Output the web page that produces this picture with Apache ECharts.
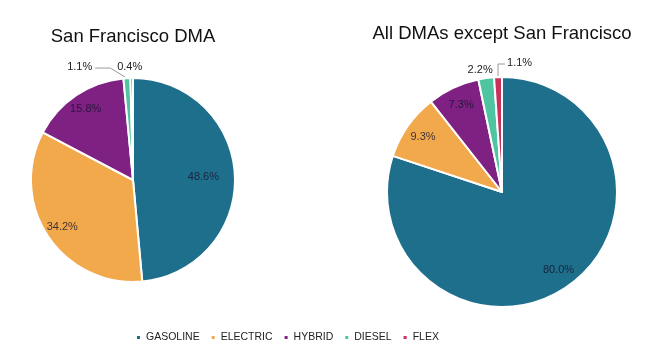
<!DOCTYPE html>
<html><head><meta charset="utf-8">
<script src="https://cdn.jsdelivr.net/npm/echarts@6/dist/echarts.min.js"></script>
<style>html,body{margin:0;padding:0;background:#fff}#c{width:655px;height:364px}</style>
</head><body><div id="c"></div>
<script>
var categories = ['GASOLINE', 'ELECTRIC', 'HYBRID', 'DIESEL', 'FLEX'];
var sfValues = [48.6, 34.2, 15.8, 1.1, 0.4];
var otherValues = [80.0, 9.3, 7.3, 2.2, 1.1];
var titles = ['San Francisco DMA', 'All DMAs except San Francisco'];
var colors = ['#1e6f8c', '#f2a94c', '#7e2183', '#4fc4a0', '#c8325a'];

var FONT = 'Liberation Sans, Arial, sans-serif';
function fmt(p){ return p.value.toFixed(1) + '%'; }
function pickData(vals, showIdx){
  return categories.map(function(c,i){
    var s = showIdx.indexOf(i) >= 0;
    return {name:c, value:vals[i], label:{show:s}, labelLine:{show:s}};
  });
}

// outside-label placement relative to the slice's own bounding box (top centre)
function leftOutside(p){
  var tx = p.rect.x + p.rect.width/2, ty = p.rect.y;
  if (p.dataIndex === 3) {
    return {x: tx-36, y: ty-10, align:'right', verticalAlign:'middle',
            labelLinePoints: [[tx-3, ty], [tx-18, ty-9], [tx-33, ty-9]]};
  }
  return {x: tx-2, y: ty-10, align:'center', verticalAlign:'middle',
          labelLinePoints: [[tx, ty], [tx, ty], [tx, ty]]};
}
function rightOutside(p){
  var tx = p.rect.x + p.rect.width/2, ty = p.rect.y;
  if (p.dataIndex === 3) {
    return {x: tx-10, y: ty-6, align:'center', verticalAlign:'middle',
            labelLinePoints: [[tx, ty], [tx, ty], [tx, ty]]};
  }
  return {x: tx+9, y: ty-13, align:'left', verticalAlign:'middle',
          labelLinePoints: [[tx, ty], [tx, ty-12], [tx+7, ty-12]]};
}

var chart = echarts.init(document.getElementById('c'));
var baseItem = {borderColor:'#fff', borderWidth:2};
var inLabel = {position:'inside', formatter:fmt, fontFamily:FONT, fontSize:11, color:'rgba(25,20,45,0.82)'};
var outLabel = {position:'outside', formatter:fmt, fontFamily:FONT, fontSize:11, color:'#222'};
var outLine = {length:8, length2:10, lineStyle:{color:'#9a9a9a', width:1}};
var overlayBase = {type:'pie', startAngle:90, silent:true, itemStyle:{color:'transparent', borderWidth:0}, labelLine:{show:false}, label:inLabel};

var option = {
  animation:false,
  color: colors,
  title: [
    {text: titles[0], left: 128, top: 22, textAlign:'center', textStyle:{fontFamily:FONT, fontSize:18.5, fontWeight:'normal', color:'#111'}},
    {text: titles[1], left: 497, top: 19, textAlign:'center', textStyle:{fontFamily:FONT, fontSize:18.5, fontWeight:'normal', color:'#111'}}
  ],
  legend: {
    left: 130, top: 327, itemWidth:5, itemHeight:5, itemGap:10, icon:'rect',
    textStyle:{fontFamily:FONT, fontSize:10.5, color:'#222'},
    data: categories
  },
  series: [
    {type:'pie', center:[133,180], radius:102, startAngle:90, clockwise:true,
     itemStyle: baseItem, label: outLabel, labelLine: outLine, labelLayout: leftOutside,
     data: pickData(sfValues, [3,4])},
    Object.assign({}, overlayBase, {center:[133,180], radius:[62,102], data: pickData(sfValues, [1,2])}),
    Object.assign({}, overlayBase, {center:[133,180], radius:[33,102], data: pickData(sfValues, [0])}),
    {type:'pie', center:[502,192], radius:115, startAngle:90, clockwise:true,
     itemStyle: baseItem, label: outLabel, labelLine: outLine, labelLayout: rightOutside,
     data: pickData(otherValues, [3,4])},
    Object.assign({}, overlayBase, {center:[502,192], radius:[72,115], data: pickData(otherValues, [0,1,2])})
  ]
};
chart.setOption(option);
</script></body></html>
